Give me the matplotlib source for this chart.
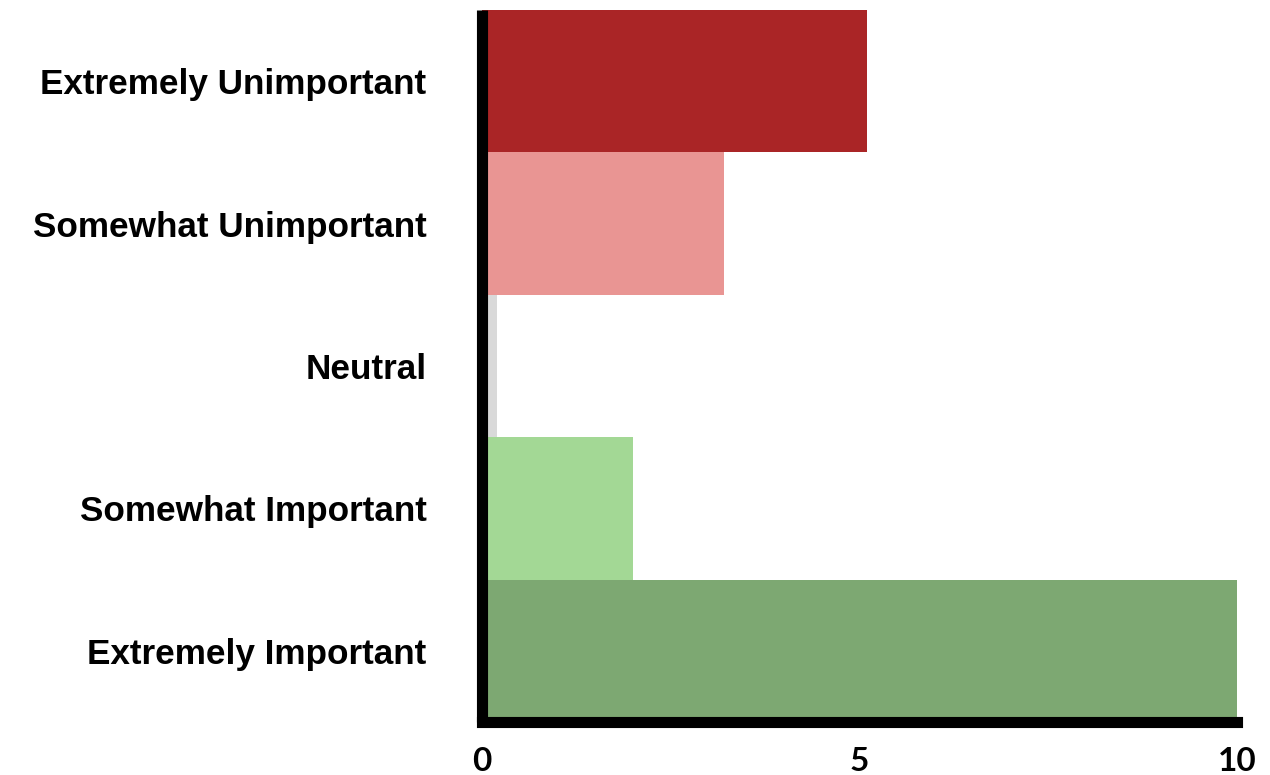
import matplotlib.pyplot as plt

# Survey responses, top to bottom
categories = ['Extremely Unimportant', 'Somewhat Unimportant', 'Neutral',
              'Somewhat Important', 'Extremely Important']
counts = [5.1, 3.2, 0.2, 2.0, 10.0]
colors = ['#aa2526', '#e99593', '#d9d9d9', '#a3d895', '#7da872']
xticks = [0, 5, 10]

fig = plt.figure(figsize=(12.7, 7.75), dpi=100)
ax = fig.add_axes([482 / 1270, 53 / 775, 755 / 1270, 712 / 775])

ypos = list(range(len(categories)))[::-1]
ax.barh(ypos, counts, height=1.0, color=colors, edgecolor='none', zorder=1)

ax.set_xlim(0, 10)
ax.set_ylim(-0.5, len(categories) - 0.5)

ax.set_yticks(ypos)
ax.set_yticklabels(categories, fontsize=25.3, fontweight='bold',
                   family='Liberation Sans')
ax.set_xticks(xticks)
ax.set_xticklabels([str(t) for t in xticks], fontsize=24, fontweight='bold',
                   family='Lato')
ax.tick_params(axis='y', length=0, pad=40)
ax.tick_params(axis='x', length=0, pad=18)

for side in ['top', 'right']:
    ax.spines[side].set_visible(False)
for side in ['left', 'bottom']:
    ax.spines[side].set_linewidth(8)
    ax.spines[side].set_color('black')
    ax.spines[side].set_zorder(3)
ax.spines['left'].set_capstyle('butt')

fig.savefig('out.png', dpi=100, facecolor='white')
